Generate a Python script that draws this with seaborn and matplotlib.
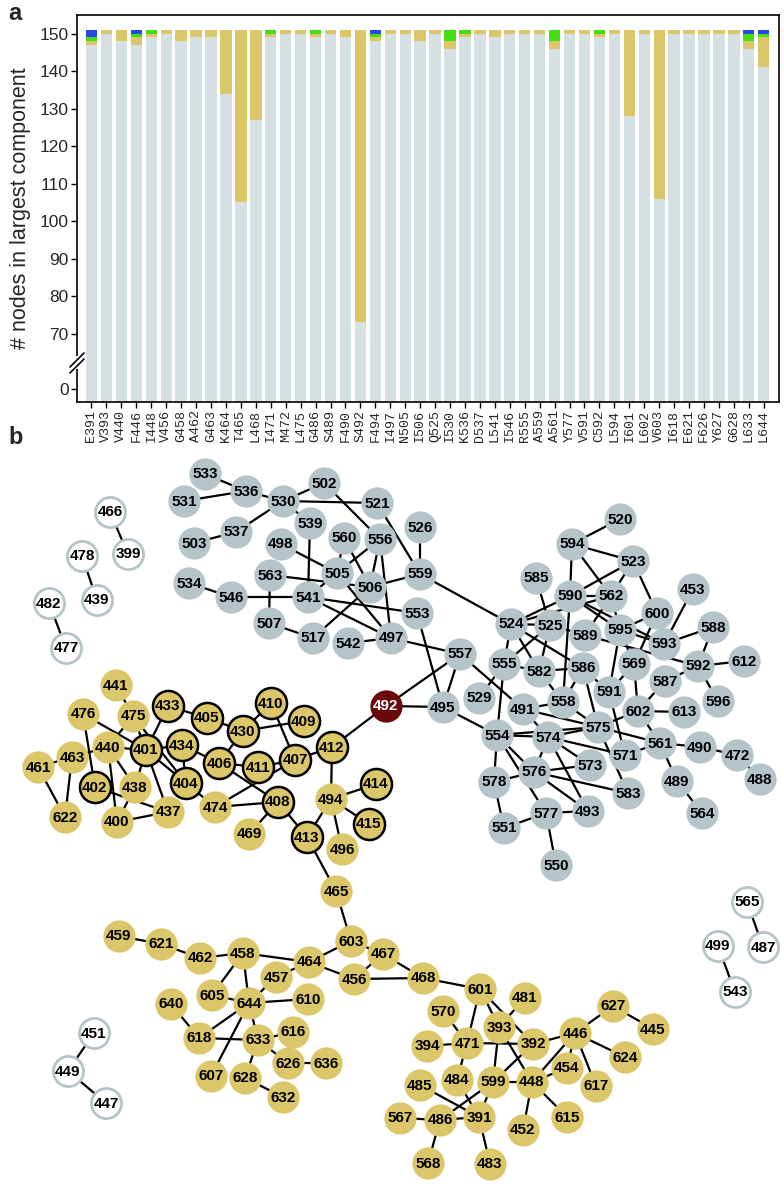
import matplotlib
matplotlib.use("Agg")
import matplotlib.pyplot as plt
import numpy as np
import pandas as pd
import seaborn as sns

# ---------------- panel a data ----------------
residues = ["E391", "V393", "V440", "F446", "I448", "V456", "G458", "A462", "G463",
            "K464", "T465", "L468", "I471", "M472", "L475", "G486", "S489", "F490",
            "S492", "F494", "I497", "N505", "I506", "Q525", "I530", "K536", "D537",
            "L541", "I546", "R555", "A559", "A561", "Y577", "V591", "C592", "L594",
            "I601", "L602", "V603", "I618", "E621", "F626", "Y627", "G628", "L633",
            "L644"]
n_main = [147, 150, 148, 147, 149, 150, 148, 149, 149, 134, 105, 127, 149, 150, 150,
          149, 150, 149, 73, 148, 150, 150, 148, 150, 146, 149, 150, 149, 150, 150,
          150, 146, 150, 150, 149, 150, 128, 150, 106, 150, 150, 150, 150, 150, 146,
          141]
n_second = [1, 1, 3, 2, 1, 1, 3, 2, 2, 17, 46, 24, 1, 1, 1, 1, 1, 2, 78, 1, 1, 1, 3,
            1, 2, 1, 1, 2, 1, 1, 1, 2, 1, 1, 1, 1, 23, 1, 45, 1, 1, 1, 1, 1, 2, 8]
n_third = [1, 0, 0, 1, 1, 0, 0, 0, 0, 0, 0, 0, 1, 0, 0, 1, 0, 0, 0, 1, 0, 0, 0, 0, 3,
           1, 0, 0, 0, 0, 0, 3, 0, 0, 1, 0, 0, 0, 0, 0, 0, 0, 0, 0, 2, 1]
n_fourth = [2, 0, 0, 1, 0, 0, 0, 0, 0, 0, 0, 0, 0, 0, 0, 0, 0, 0, 0, 1, 0, 0, 0, 0, 0,
            0, 0, 0, 0, 0, 0, 0, 0, 0, 0, 0, 0, 0, 0, 0, 0, 0, 0, 0, 1, 1]
y_ticks = [0, 70, 80, 90, 100, 110, 120, 130, 140, 150]

# ---------------- panel b data ----------------
# node positions (pixel units of the figure)
gray_nodes = {
    533: (205, 474), 536: (246, 491), 531: (184, 501), 530: (283, 501), 502: (324, 483),
    521: (377, 503), 539: (310, 523), 537: (236, 532), 503: (194, 543), 498: (281, 544),
    560: (344, 538), 556: (380, 539), 505: (337, 573), 563: (270, 575), 506: (370, 587),
    534: (189, 583), 546: (231, 597), 541: (308, 597), 507: (269, 623), 517: (313, 638),
    542: (348, 643), 497: (391, 638), 526: (420, 527), 559: (420, 574), 553: (417, 613),
    557: (460, 654), 520: (620, 519), 594: (572, 544), 523: (633, 561), 585: (536, 578),
    453: (693, 589), 590: (570, 596), 562: (611, 596), 600: (657, 613), 588: (713, 627),
    524: (511, 624), 525: (550, 625), 589: (585, 635), 595: (620, 630), 593: (664, 644),
    612: (744, 661), 555: (504, 664), 582: (539, 671), 586: (583, 668), 569: (634, 664),
    592: (698, 666), 587: (665, 681), 529: (479, 698), 495: (443, 707), 491: (523, 709),
    558: (563, 702), 591: (609, 692), 602: (638, 711), 613: (684, 712), 596: (718, 701),
    554: (497, 735), 574: (548, 737), 575: (598, 727), 561: (660, 743), 490: (700, 747),
    472: (737, 755), 488: (760, 779), 571: (625, 755), 573: (590, 765), 576: (534, 772),
    578: (494, 782), 583: (628, 793), 489: (677, 781), 564: (702, 813), 577: (546, 813),
    493: (588, 811), 551: (504, 828), 550: (556, 865),
}
yellow_nodes = {
    441: (116, 685), 476: (83, 714), 475: (133, 716), 440: (108, 747), 463: (72, 757),
    461: (38, 767), 438: (135, 787), 622: (65, 817), 400: (117, 822), 437: (168, 812),
    474: (215, 807), 494: (331, 799), 469: (249, 834), 496: (342, 849), 465: (336, 891),
    603: (351, 941), 467: (383, 954), 459: (119, 936), 621: (161, 944), 462: (200, 958),
    458: (243, 953), 464: (309, 962), 456: (354, 979), 457: (276, 977), 605: (212, 995),
    644: (249, 1003), 610: (308, 999), 640: (171, 1004), 618: (199, 1038),
    633: (258, 1040), 616: (293, 1032), 626: (288, 1063), 636: (326, 1063),
    607: (211, 1076), 628: (245, 1078), 632: (283, 1097), 468: (423, 978),
    601: (480, 989), 481: (525, 998), 570: (443, 1011), 393: (499, 1027),
    627: (613, 1006), 445: (653, 1029), 446: (575, 1033), 394: (427, 1046),
    471: (467, 1043), 392: (533, 1044), 624: (625, 1057), 454: (567, 1068),
    617: (596, 1086), 485: (420, 1085), 484: (457, 1080), 599: (493, 1082),
    448: (532, 1082), 615: (567, 1117), 567: (400, 1118), 486: (440, 1120),
    391: (479, 1117), 452: (523, 1130), 568: (428, 1163), 483: (490, 1164),
}
core_nodes = {
    433: (168, 706), 405: (207, 718), 430: (243, 731), 410: (271, 703), 409: (304, 721),
    412: (332, 747), 401: (146, 750), 434: (182, 745), 406: (219, 763), 411: (258, 767),
    407: (295, 760), 402: (95, 787), 404: (186, 783), 414: (376, 784), 408: (278, 802),
    415: (369, 824), 413: (307, 837),
}
hub_nodes = {492: (386, 706)}
free_nodes = {
    466: (110, 512), 399: (128, 554), 478: (82, 556), 439: (97, 600), 482: (49, 603),
    477: (66, 648), 451: (94, 1033), 449: (68, 1071), 447: (106, 1103), 565: (747, 902),
    499: (718, 946), 487: (763, 947), 543: (735, 992),
}

edges = [
    (533, 536), (531, 536), (536, 530), (530, 502), (530, 521), (530, 539), (530, 537),
    (537, 503), (502, 556), (521, 559), (539, 541), (560, 505), (560, 506), (556, 505),
    (556, 506), (556, 497), (498, 505), (563, 506), (541, 546), (546, 534), (563, 507),
    (507, 517), (541, 505), (517, 506), (541, 497), (541, 553), (505, 497), (542, 497),
    (506, 559), (526, 559), (559, 524), (497, 557), (553, 495), (492, 557), (492, 495),
    (495, 557), (495, 554), (557, 491), (554, 555), (524, 555), (529, 555), (520, 594),
    (594, 523), (594, 590), (594, 562), (523, 590), (523, 562), (523, 600), (453, 593),
    (590, 562), (524, 590), (524, 562), (590, 595), (590, 593), (562, 595), (562, 589),
    (590, 558), (585, 525), (524, 525), (525, 589), (589, 592), (595, 593), (595, 600),
    (595, 591), (595, 569), (600, 569), (569, 591), (588, 593), (588, 592), (592, 612),
    (592, 596), (592, 587), (524, 586), (524, 582), (525, 582), (525, 555), (555, 582),
    (582, 586), (582, 558), (586, 558), (586, 575), (586, 591), (591, 571), (602, 575),
    (602, 613), (569, 602), (602, 587), (602, 561), (575, 558), (575, 491), (554, 574),
    (554, 575), (574, 575), (575, 561), (575, 583), (574, 571), (574, 573), (574, 576),
    (574, 493), (491, 574), (491, 558), (554, 576), (554, 577), (576, 493), (554, 578),
    (576, 578), (576, 573), (576, 583), (578, 551), (551, 577), (577, 493), (577, 550),
    (561, 571), (561, 490), (490, 472), (472, 488), (561, 489), (489, 564),
    (441, 475), (476, 401), (475, 440), (475, 401), (475, 404), (433, 401), (433, 405),
    (405, 430), (430, 410), (430, 409), (430, 406), (410, 407), (407, 412), (412, 494),
    (412, 492), (440, 401), (440, 463), (463, 461), (463, 622), (461, 622), (476, 402),
    (440, 400), (440, 438), (402, 437), (401, 438), (401, 437), (401, 404), (401, 434),
    (434, 404), (434, 406), (406, 411), (406, 408), (411, 407), (474, 407), (474, 408),
    (404, 474), (438, 400), (400, 437), (408, 469), (408, 413), (494, 414), (494, 415),
    (494, 413), (494, 496), (413, 465), (465, 603), (603, 464), (603, 467), (464, 458),
    (464, 457), (464, 456), (467, 456), (456, 468), (467, 468), (459, 621), (621, 462),
    (462, 458), (458, 605), (458, 644), (457, 644), (605, 644), (644, 610), (644, 618),
    (644, 607), (644, 633), (640, 618), (618, 633), (633, 616), (633, 626), (633, 628),
    (626, 636), (628, 632), (468, 601), (601, 471), (601, 393), (601, 392), (481, 393),
    (570, 471), (394, 471), (471, 392), (471, 484), (393, 599), (393, 448), (392, 446),
    (392, 599), (446, 627), (627, 445), (446, 624), (446, 454), (446, 617), (446, 448),
    (448, 454), (599, 448), (599, 391), (599, 486), (484, 391), (485, 391), (567, 486),
    (486, 391), (486, 568), (391, 483), (448, 452), (448, 615),
    (466, 399), (478, 439), (482, 477), (451, 449), (449, 447), (565, 487), (499, 543),
]

# ---------------- style ----------------
sns.set_theme(style="ticks")
plt.rcParams["font.family"] = ["Liberation Sans", "DejaVu Sans"]

c_main = "#d6dfe2"
c_second = "#dcc66a"
c_third = "#44dd11"
c_fourth = "#2448ee"
c_node = "#b5c4c8"
c_hub = "#6a0a0a"

fig = plt.figure(figsize=(7.84, 11.84), dpi=100)

# ---------------- panel a ----------------
ax = fig.add_axes([77 / 784, 1 - 402 / 1184, 702 / 784, 387 / 1184])


def fwd(v):
    v = np.asarray(v, dtype=float)
    return np.where(v >= 70, v, 55.3 + v * 14.7 / 70)


def inv(u):
    u = np.asarray(u, dtype=float)
    return np.where(u >= 70, u, (u - 55.3) * 70 / 14.7)


ax.set_yscale("function", functions=(fwd, inv))
floor = -16.7

bars = pd.DataFrame({"residue": residues, "main": n_main, "second": n_second,
                     "third": n_third, "fourth": n_fourth})
bars["t2"] = bars["main"] + bars["second"]
bars["t3"] = bars["t2"] + bars["third"]
bars["t4"] = bars["t3"] + bars["fourth"]

for col, colr in [("t4", c_fourth), ("t3", c_third), ("t2", c_second), ("main", c_main)]:
    sns.barplot(data=bars, x="residue", y=col, color=colr, saturation=1,
                width=0.76, linewidth=0, ax=ax)

for p in ax.patches:
    top = p.get_y() + p.get_height()
    p.set_y(floor)
    p.set_height(top - floor)

ax.set_xlim(-0.97, 46.02)
ax.set_ylim(floor, 155)
ax.set_yticks(y_ticks)
ax.set_yticklabels([str(t) for t in y_ticks], fontsize=12.5)
ax.set_xticks(range(len(residues)))
ax.set_xticklabels(residues, rotation=90, fontsize=9.6,
                   family=["Liberation Mono", "DejaVu Sans Mono"])
ax.tick_params(axis="both", direction="out", length=4, width=1, color="black",
               pad=2)
ax.set_xlabel("")
ax.set_ylabel("# nodes in largest component", fontsize=15.5, labelpad=6)
for s in ax.spines.values():
    s.set_color("black")
    s.set_linewidth(1.2)

# axis break marks on the left spine
fx = lambda px: (px - 77) / 702
fy = lambda py: (402 - py) / 387
ax.plot([fx(77), fx(77)], [fy(367), fy(358)], transform=ax.transAxes,
        color="white", lw=3, clip_on=False, zorder=10)
for off in (0, 6):
    ax.plot([fx(70), fx(84)], [fy(373 - off), fy(359 - off)], transform=ax.transAxes,
            color="black", lw=1.2, clip_on=False, zorder=11)

fig.text(8 / 784, 1 - 14 / 1184, "a", fontsize=17, fontweight="bold", va="center")
fig.text(8 / 784, 1 - 437 / 1184, "b", fontsize=17, fontweight="bold", va="center")

# ---------------- panel b ----------------
bx = fig.add_axes([0, 0, 1, 760 / 1184])
bx.set_xlim(0, 784)
bx.set_ylim(1184, 424)
bx.axis("off")

pos = {}
for d in (gray_nodes, yellow_nodes, core_nodes, hub_nodes, free_nodes):
    pos.update(d)

for a, b in edges:
    bx.plot([pos[a][0], pos[b][0]], [pos[a][1], pos[b][1]], color="black",
            lw=1.6, zorder=1, solid_capstyle="butt")


def node_frame(d):
    return pd.DataFrame({"id": list(d.keys()),
                         "x": [v[0] for v in d.values()],
                         "y": [v[1] for v in d.values()]})


size = 540
sns.scatterplot(data=node_frame(gray_nodes), x="x", y="y", color=c_node, s=size,
                linewidth=0, ax=bx, zorder=2, legend=False)
sns.scatterplot(data=node_frame(yellow_nodes), x="x", y="y", color=c_second, s=size,
                linewidth=0, ax=bx, zorder=2, legend=False)
sns.scatterplot(data=node_frame(core_nodes), x="x", y="y", color=c_second, s=500,
                edgecolor="black", linewidth=1.8, ax=bx, zorder=2, legend=False)
sns.scatterplot(data=node_frame(hub_nodes), x="x", y="y", color=c_hub, s=size,
                linewidth=0, ax=bx, zorder=2, legend=False)
sns.scatterplot(data=node_frame(free_nodes), x="x", y="y", color="white", s=470,
                edgecolor=c_node, linewidth=2.0, ax=bx, zorder=2, legend=False)
bx.set_xlabel("")
bx.set_ylabel("")

for nid, (x, y) in pos.items():
    bx.text(x, y + 0.5, str(nid), ha="center", va="center", fontsize=11,
            fontweight="bold", color="white" if nid in hub_nodes else "black",
            zorder=3)

fig.savefig("out.png", dpi=100)
